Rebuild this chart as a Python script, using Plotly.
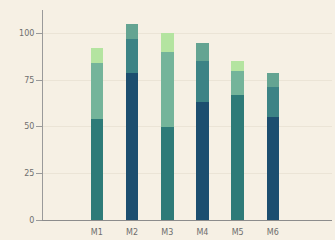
import plotly.graph_objects as go

months = ["M1", "M2", "M3", "M4", "M5", "M6"]
base = [54, 79, 50, 63, 67, 55]
middle = [30, 18, 40, 22, 13, 16]
top = [8, 8, 10, 10, 5, 8]
y_ticks = [0, 25, 50, 75, 100]

base_colors = ["#2e7b78", "#1c4e6f", "#2e7b78", "#1c4e6f", "#2e7b78", "#1c4e6f"]
mid_colors = ["#74b49a", "#3c8385", "#74b49a", "#3c8385", "#74b49a", "#3c8385"]
top_colors = ["#b4e4a0", "#64a492", "#b4e4a0", "#64a492", "#b4e4a0", "#64a492"]

fig = go.Figure()
for vals, cols in [(base, base_colors), (middle, mid_colors), (top, top_colors)]:
    fig.add_trace(go.Bar(x=months, y=vals, marker=dict(color=cols, line=dict(width=0)),
                         width=0.36, showlegend=False, hoverinfo="skip"))

fig.update_layout(
    barmode="stack",
    width=335, height=240,
    margin=dict(l=43, r=3, t=10, b=20),
    paper_bgcolor="#f6f0e4",
    plot_bgcolor="#f6f0e4",
    font=dict(family="DejaVu Sans", size=8, color="#6e6e6e"),
)
fig.update_xaxes(range=[-1.53, 6.68], showline=True, linecolor="#8c8c8c", linewidth=1,
                 ticks="", showgrid=False, ticklabelstandoff=4,
                 tickfont=dict(size=8, color="#6e6e6e"))
fig.update_yaxes(range=[0, 112.5], tickvals=y_ticks, showline=True, linecolor="#9a9a9a",
                 linewidth=1, ticks="outside", ticklen=6, tickcolor="#9a9a9a",
                 showgrid=True, gridcolor="#ebe4d6", gridwidth=1, zeroline=False,
                 tickfont=dict(size=8, color="#6e6e6e"))

fig.write_html("out.html", config={"displayModeBar": False},
               post_script="document.body.style.margin='0';document.body.style.background='#f6f0e4';")
